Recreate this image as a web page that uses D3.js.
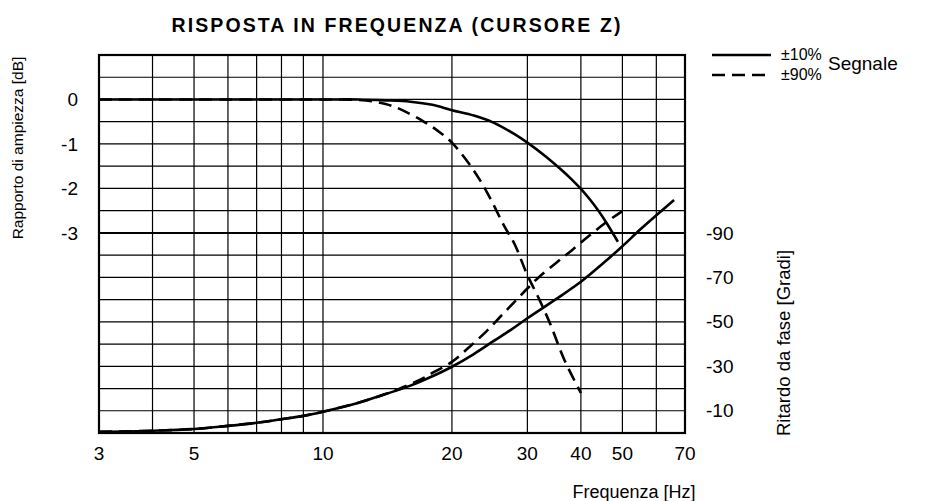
<!DOCTYPE html>
<html><head><meta charset="utf-8">
<script src="https://cdn.jsdelivr.net/npm/d3@7"></script>
<style>
html,body{margin:0;padding:0;background:#fff;}
svg{display:block;font-family:"Liberation Sans",Arial,sans-serif;}
</style></head>
<body>
<svg id="chart" width="926" height="501"></svg>
<script>
// ---- data ----
const freqTicks = [3, 5, 10, 20, 30, 40, 50, 70];
const freqGrid = [4, 5, 6, 7, 8, 9, 10, 20, 30, 40, 50, 60];
const dbTicks = [0, -1, -2, -3];
const phaseTicks = [-90, -70, -50, -30, -10];

const ampSolidFreq = [3, 10, 12, 14, 16, 18, 20, 22.5, 25, 28, 30, 33, 36, 38, 40, 42, 44, 46, 48.8];
const ampSolid =     [0, 0, 0, -0.02, -0.05, -0.12, -0.24, -0.36, -0.52, -0.78, -0.97, -1.27, -1.58, -1.79, -2.01, -2.25, -2.51, -2.79, -3.2];

const ampDashedFreq = [3, 10, 11, 12, 13, 14, 15, 17, 18.5, 20, 22.5, 24.5, 26.5, 28, 30, 32, 34, 36.5, 40];
const ampDashed =     [0, 0, 0, -0.01, -0.04, -0.1, -0.2, -0.47, -0.7, -0.97, -1.6, -2.2, -2.85, -3.25, -3.95, -4.5, -5.07, -5.83, -6.6];

const phSolidFreq = [3, 4, 5, 6, 7, 8, 9, 10, 12, 14, 16, 18, 20, 22.5, 25, 27.5, 30, 35, 40, 45, 50, 55, 60, 66];
const phSolid =     [-0.5, -1, -1.8, -3.2, -4.6, -6.2, -7.7, -9.6, -13.4, -17.5, -21.3, -25.5, -29.8, -35.5, -41.3, -46.5, -51.6, -60.2, -68, -76.2, -84, -91.5, -97.9, -104.8];

const phDashedFreq = [3, 4, 5, 6, 7, 8, 9, 10, 12, 14, 15, 16, 17, 18, 20, 22, 24, 26, 28, 30, 32, 35, 38, 42, 46, 50];
const phDashed =     [-0.5, -1, -1.8, -3.2, -4.6, -6.2, -7.7, -9.6, -13.4, -17.5, -19.7, -22, -24.3, -27, -32, -38.8, -45.5, -52.5, -59, -65, -70.3, -76.5, -82, -89, -95, -99.8];

const legendLabels = ["±10%", "±90%"];

// ---- layout ----
const svg = d3.select("#chart");
const L = 99, R = 685, T = 55, B = 433;
const x = d3.scaleLog().domain([3, 70]).range([L, R]);
const yDb = d3.scaleLinear().domain([1, -7.5]).range([T, B]);
const yPh = d3.scaleLinear().domain([0, -170]).range([B, T]);

const ink = "#000";
const hLines = d3.range(0, 18).map(i => 1 - i * 0.5);
svg.append("g").selectAll("line").data(hLines).join("line")
  .attr("x1", L).attr("x2", R)
  .attr("y1", d => yDb(d)).attr("y2", d => yDb(d))
  .attr("stroke", ink).attr("stroke-width", d => d === -3 ? 2 : 1.2);
svg.append("g").selectAll("line").data(freqGrid).join("line")
  .attr("x1", d => x(d)).attr("x2", d => x(d))
  .attr("y1", T).attr("y2", B)
  .attr("stroke", ink).attr("stroke-width", 1.2);

svg.append("rect").attr("x", L).attr("y", T).attr("width", R - L).attr("height", B - T)
  .attr("fill", "none").attr("stroke", ink).attr("stroke-width", 2.2);

function drawCurve(fs, vs, yScale, dashed) {
  const pts = fs.map((f, i) => [x(f), yScale(vs[i])]);
  svg.append("path").attr("d", d3.line().curve(d3.curveCatmullRom.alpha(0.5))(pts))
    .attr("fill", "none").attr("stroke", ink).attr("stroke-width", 2.6)
    .attr("stroke-dasharray", dashed ? "13,7" : null);
}
drawCurve(ampSolidFreq, ampSolid, yDb, false);
drawCurve(ampDashedFreq, ampDashed, yDb, true);
drawCurve(phSolidFreq, phSolid, yPh, false);
drawCurve(phDashedFreq, phDashed, yPh, true);

const fs = 19;
svg.append("g").selectAll("text").data(freqTicks).join("text")
  .attr("x", d => x(d)).attr("y", 460).attr("text-anchor", "middle")
  .attr("font-size", fs).text(d => d);
svg.append("g").selectAll("text").data(dbTicks).join("text")
  .attr("x", 78).attr("y", d => yDb(d)).attr("dy", "0.35em").attr("text-anchor", "end")
  .attr("font-size", fs).text(d => d);
svg.append("g").selectAll("text").data(phaseTicks).join("text")
  .attr("x", 706).attr("y", d => yPh(d)).attr("dy", "0.35em").attr("text-anchor", "start")
  .attr("font-size", fs).text(d => d);

svg.append("text").attr("transform", "translate(23,148) rotate(-90)")
  .attr("text-anchor", "middle").attr("font-size", 15.5).text("Rapporto di ampiezza [dB]");
svg.append("text").attr("transform", "translate(790,343) rotate(-90)")
  .attr("text-anchor", "middle").attr("font-size", 18.5).text("Ritardo da fase [Gradi]");
svg.append("text").attr("x", 634).attr("y", 498).attr("text-anchor", "middle")
  .attr("font-size", 18).text("Frequenza [Hz]");

svg.append("text").attr("x", 397).attr("y", 32).attr("text-anchor", "middle")
  .attr("font-size", 19.5).attr("font-weight", "bold").attr("letter-spacing", 2.1)
  .text("RISPOSTA IN FREQUENZA  (CURSORE Z)");

const legY = [55, 75];
legendLabels.forEach((lab, i) => {
  svg.append("line").attr("x1", 712).attr("x2", 771).attr("y1", legY[i]).attr("y2", legY[i])
    .attr("stroke", ink).attr("stroke-width", 2.6).attr("stroke-dasharray", i ? "13,7" : null);
  svg.append("text").attr("x", 781).attr("y", legY[i] - 1).attr("dy", "0.35em")
    .attr("font-size", 16).text(lab);
});
svg.append("text").attr("x", 828).attr("y", 63).attr("dy", "0.35em")
  .attr("font-size", 19).text("Segnale");
</script>
</body></html>
